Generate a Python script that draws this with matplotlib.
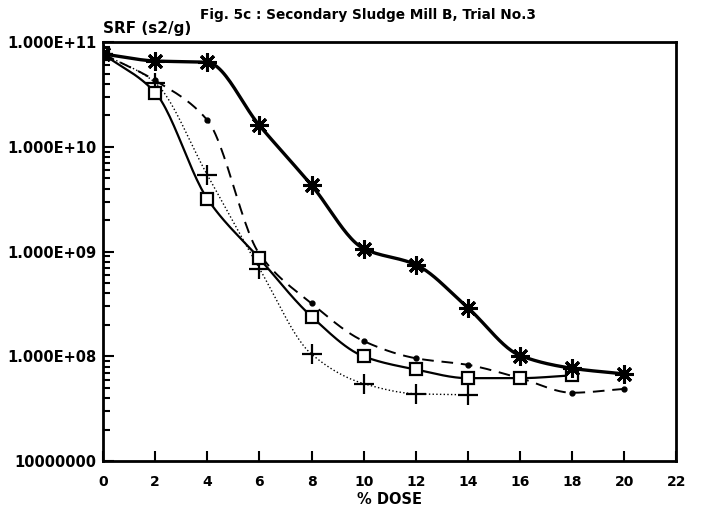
import numpy as np
import matplotlib
matplotlib.use("Agg")
import matplotlib.pyplot as plt

# % dose values and SRF readings (s2/g)
dose_star = [0, 2, 4, 6, 8, 10, 12, 14, 16, 18, 20]
srf_star = [7.7e10, 6.6e10, 6.4e10, 1.6e10, 4.3e9, 1.07e9, 7.5e8, 2.9e8, 1.02e8, 7.7e7, 6.8e7]

dose_sq = [0, 2, 4, 6, 8, 10, 12, 14, 16, 18]
srf_sq = [7.7e10, 3.3e10, 3.2e9, 8.6e8, 2.4e8, 1.0e8, 7.5e7, 6.2e7, 6.2e7, 6.6e7]

dose_plus = [0, 2, 4, 6, 8, 10, 12, 14]
srf_plus = [7.7e10, 4.1e10, 5.4e9, 6.9e8, 1.05e8, 5.5e7, 4.4e7, 4.3e7]

dose_dash = [0, 2, 4, 6, 8, 10, 12, 14, 16, 18, 20]
srf_dash = [7.7e10, 4.3e10, 1.8e10, 9.5e8, 3.2e8, 1.4e8, 9.6e7, 8.3e7, 6.2e7, 4.5e7, 4.9e7]

yticks = [1e7, 1e8, 1e9, 1e10, 1e11]
ylabels = ["10000000", "1.000E+08", "1.000E+09", "1.000E+10", "1.000E+11"]
xticks = list(range(0, 23, 2))

plt.rcParams['font.family'] = ['DejaVu Sans']
plt.rcParams['font.weight'] = 'bold'


def smooth(x, y, n=25):
    # monotone cubic (pchip) through the points, in log space
    x = np.asarray(x, float)
    ly = np.log10(y)
    h = np.diff(x)
    d = np.diff(ly) / h
    m = np.zeros_like(ly)
    m[0], m[-1] = d[0], d[-1]
    for k in range(1, len(x) - 1):
        if d[k - 1] * d[k] > 0:
            w1 = 2 * h[k] + h[k - 1]
            w2 = h[k] + 2 * h[k - 1]
            m[k] = (w1 + w2) / (w1 / d[k - 1] + w2 / d[k])
    xs, ys = [], []
    t = np.linspace(0, 1, n, endpoint=False)
    for k in range(len(x) - 1):
        h00 = 2 * t ** 3 - 3 * t ** 2 + 1
        h10 = t ** 3 - 2 * t ** 2 + t
        h01 = -2 * t ** 3 + 3 * t ** 2
        h11 = t ** 3 - t ** 2
        xs.extend(x[k] + t * h[k])
        ys.extend(h00 * ly[k] + h10 * h[k] * m[k] + h01 * ly[k + 1] + h11 * h[k] * m[k + 1])
    xs.append(x[-1])
    ys.append(ly[-1])
    return np.array(xs), 10 ** np.array(ys)


fig = plt.figure(figsize=(7.08, 5.13), dpi=100)
ax = fig.add_axes([0.1455, 0.101, 0.81, 0.817])

sx, sy = smooth(dose_dash, srf_dash)
ax.plot(sx, sy, color="black", linewidth=1.4, linestyle=(0, (6, 4)))
ax.plot(dose_dash, srf_dash, linestyle="none", marker="o", markersize=3.5, color="black")

sx, sy = smooth(dose_plus, srf_plus)
ax.plot(sx, sy, color="black", linewidth=1.0, linestyle=":")
ax.plot(dose_plus, srf_plus, linestyle="none", marker="+", markersize=14, markeredgewidth=1.6, color="black")

sx, sy = smooth(dose_sq, srf_sq)
ax.plot(sx, sy, color="black", linewidth=1.6)
ax.plot(dose_sq, srf_sq, linestyle="none", marker="s", markersize=9, markerfacecolor="white",
        markeredgewidth=1.6, color="black")

sx, sy = smooth(dose_star, srf_star)
ax.plot(sx, sy, color="black", linewidth=2.4)
ax.plot(dose_star, srf_star, linestyle="none", marker=(8, 2, 0), markersize=13, markeredgewidth=2.2, color="black")

ax.set_yscale("log")
ax.set_xlim(0, 22)
ax.set_ylim(1e7, 1e11)
ax.set_xticks(xticks)
ax.set_xticklabels([str(v) for v in xticks], fontsize=10, fontweight="bold")
ax.set_yticks(yticks)
ax.set_yticklabels(ylabels, fontsize=10.5, fontweight="bold")
ax.tick_params(axis="both", which="both", direction="in", width=1.5)
ax.tick_params(axis="y", which="major", length=8, pad=5)
ax.tick_params(axis="y", which="minor", length=5)
ax.tick_params(axis="x", which="major", length=7, pad=10)
for s in ax.spines.values():
    s.set_linewidth(2)

ax.set_xlabel("% DOSE", fontsize=10.5, fontweight="bold", labelpad=2)
fig.text(0.146, 0.93, "SRF (s2/g)", fontsize=11, fontweight="bold", ha="left", va="bottom")
fig.text(0.283, 0.958, "Fig. 5c : Secondary Sludge Mill B, Trial No.3", fontsize=9.8,
         fontweight="bold", ha="left", va="bottom")

fig.savefig("out.png", dpi=100)
